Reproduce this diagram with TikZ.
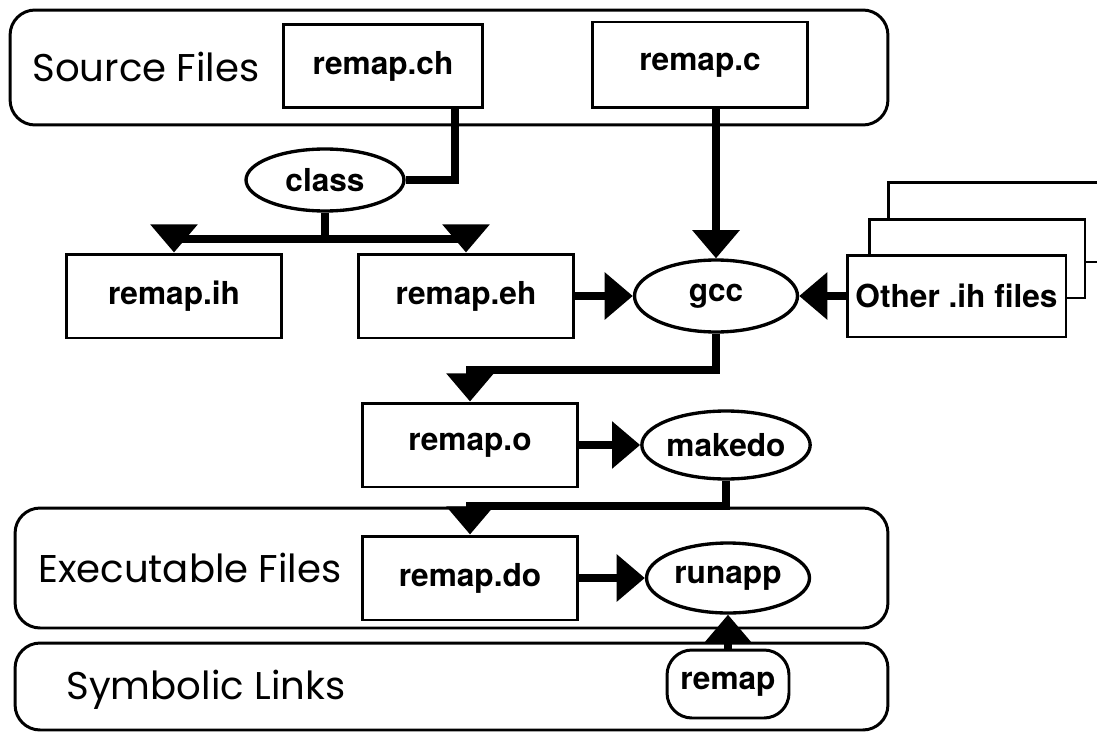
\documentclass[tikz,border=0pt]{standalone}
\usepackage{fontspec}
\setmainfont{TeX Gyre Heros}
\newfontfamily\titlefont{Poppins}
\usetikzlibrary{shapes.geometric,arrows.meta,calc}

\begin{document}
\begin{tikzpicture}[x=0.02cm,y=-0.02cm,
        group/.style={draw,line width=1.7pt,rounded corners=0.5cm,inner sep=0pt},
        title/.style={font=\titlefont\fontsize{22}{25}\selectfont},
        file/.style={draw,fill=white,line width=1.7pt,minimum width=4.3cm,minimum height=1.68cm,inner sep=0pt,font=\bfseries\fontsize{18}{21}\selectfont},
        tool/.style={ellipse,draw,fill=white,line width=1.9pt,minimum width=3.26cm,minimum height=1.4cm,inner sep=0pt,font=\bfseries\fontsize{18}{21}\selectfont},
        link/.style={line width=4.5pt},
        flow/.style={link,-{Triangle[length=16pt,width=26pt]}}]
        \useasboundingbox (0,0) rectangle (1097,733);

        % source files
        \node[group,minimum width=17.56cm,minimum height=2.3cm] (srcgroup) at (449,67.5) {};
        \node[title] (srctitle) at (146,67) {Source Files};
        \node[file,minimum width=4cm,minimum height=1.66cm] (remapch) at (383,66) {remap.ch};
        \node[file,minimum height=1.72cm] (remapc) at (700,65) {remap.c};

        \node[tool,minimum width=3.16cm,minimum height=1.24cm] (class) at (325,180) {class};
        \node[file] (remapih) at (174,296) {remap.ih};
        \node[file] (remapeh) at (466,296) {remap.eh};
        \node[tool,minimum height=1.44cm] (gcc) at (716,296) {gcc};
        \node[file,minimum width=4.4cm,minimum height=1.6cm] (otherih3) at (998,222) {};
        \node[file,minimum width=4.32cm,minimum height=1.58cm] (otherih2) at (977,258.5) {};
        \node[file,minimum width=4.38cm,minimum height=1.64cm] (otherih) at (956.5,296) {Other .ih files};

        \node[file] (remapo) at (470,445) {remap.o};
        \node[tool,minimum height=1.36cm] (makedo) at (726,445) {makedo};

        % executable files
        \node[group,minimum width=17.46cm,minimum height=2.4cm] (execgroup) at (451.5,568) {};
        \node[title] (exectitle) at (190,568) {Executable Files};
        \node[file] (remapdo) at (470,578) {remap.do};
        \node[tool] (runapp) at (728,578) {runapp};

        % symbolic links
        \node[group,minimum width=17.46cm,minimum height=1.74cm] (symgroup) at (451.5,686.5) {};
        \node[title] (symtitle) at (206,690) {Symbolic Links};
        \node[draw,fill=white,line width=1.7pt,rounded corners=0.5cm,minimum width=2.44cm,minimum height=1.36cm,inner sep=0pt,font=\bfseries\fontsize{18}{21}\selectfont] (remaplink) at (728,684) {remap};

        \draw[link] ($(remapch.south)+(72,0)$) |- (class.east);
        \draw[link] (class.south) -- ++(0,26) coordinate (classfork);
        \draw[flow] (classfork) -| (remapih.north);
        \draw[flow] (classfork) -| (remapeh.north);
        \draw[flow] (remapc.south -| gcc.north) -- (gcc.north);
        \draw[flow] (remapeh.east) -- (gcc.west);
        \draw[flow] (otherih.west) -- (gcc.east);
        \draw[flow] (gcc.south) -- ++(0,36) -| (remapo.north);
        \draw[flow] (remapo.east) -- (makedo.west);
        \draw[flow] (makedo.south) -- ++(0,25) -| (remapdo.north);
        \draw[flow] (remapdo.east) -- (runapp.west);
        \draw[flow] (remaplink.north) -- (runapp.south);
    \end{tikzpicture}
\end{document}
